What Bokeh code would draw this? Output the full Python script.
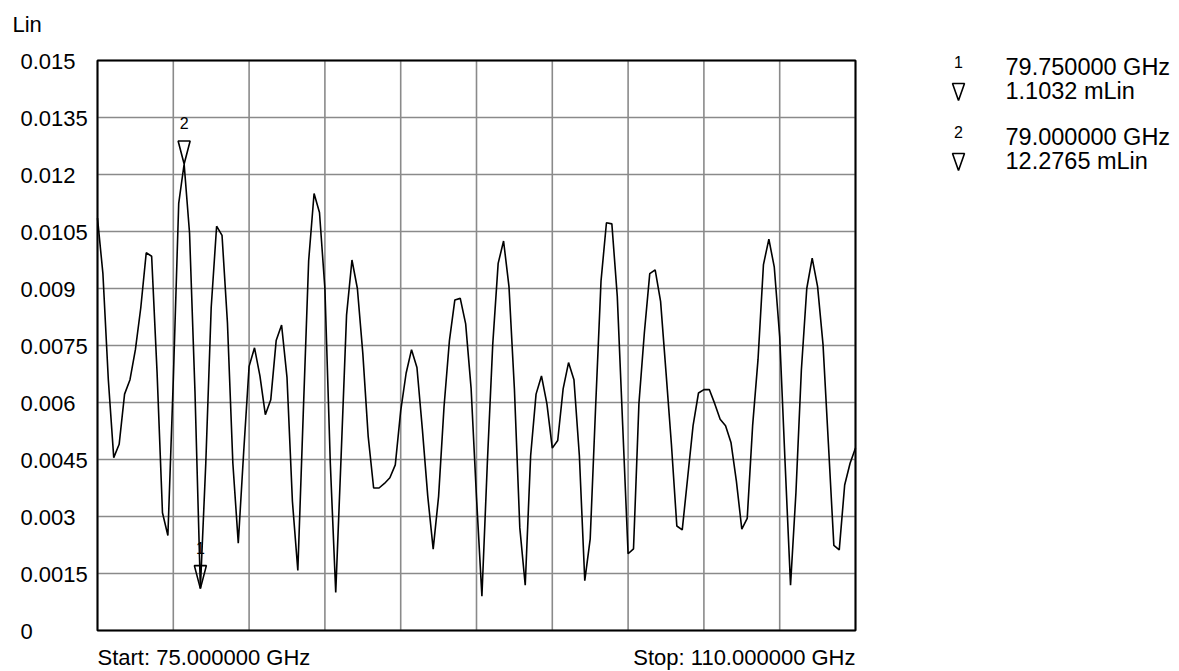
import numpy as np
from bokeh.plotting import figure
from bokeh.models import Range1d, ColumnDataSource
from bokeh.core.properties import value
from bokeh.embed import file_html
from bokeh.resources import INLINE

# ---------------- data ----------------
start_ghz = 75.0
stop_ghz = 110.0
n_points = 141
freq_ghz = np.linspace(start_ghz, stop_ghz, n_points)

trace_lin = [
    0.01085, 0.00939, 0.0066, 0.00455, 0.0049, 0.00622, 0.0066, 0.00739, 0.0085, 0.00994,
    0.00985, 0.0068, 0.0031, 0.0025, 0.0066, 0.01124, 0.0122765, 0.01046, 0.0063, 0.0011032,
    0.0044, 0.0085, 0.01064, 0.0104, 0.0081, 0.0044, 0.0023, 0.0047, 0.00695, 0.00744,
    0.0067, 0.00568, 0.00607, 0.00763, 0.00804, 0.00666, 0.0034, 0.00158, 0.0057, 0.00973,
    0.0115, 0.011, 0.009, 0.0044, 0.0010, 0.0046, 0.0083, 0.00975, 0.0090, 0.0073,
    0.0051, 0.00375, 0.00375, 0.00387, 0.00402, 0.00436, 0.00578, 0.00677, 0.00739, 0.00692,
    0.0053, 0.00353, 0.00214, 0.00353, 0.00588, 0.00763, 0.0087, 0.00874, 0.00807, 0.00638,
    0.0035, 0.0009, 0.0044, 0.00753, 0.00966, 0.01025, 0.00905, 0.00636, 0.0027, 0.00119,
    0.0046, 0.00622, 0.0067, 0.00597, 0.0048, 0.0050, 0.00636, 0.00705, 0.0066, 0.0046,
    0.00131, 0.00241, 0.00588, 0.0092, 0.01073, 0.0107, 0.0088, 0.0054, 0.00202, 0.00215,
    0.00597, 0.00783, 0.00939, 0.00949, 0.00866, 0.0068, 0.0049, 0.00275, 0.00265, 0.00402,
    0.00539, 0.00625, 0.00634, 0.00634, 0.00597, 0.00556, 0.00539, 0.00495, 0.00393, 0.00267,
    0.00295, 0.00539, 0.00714, 0.00963, 0.0103, 0.00956, 0.00773, 0.0044, 0.00119, 0.00363,
    0.00685, 0.0090, 0.0098, 0.00905, 0.00753, 0.0049, 0.00224, 0.00212, 0.00383, 0.0044,
    0.0048,
]

marker_ids = ["1", "2"]
marker_freq_ghz = [79.75, 79.0]
marker_val_lin = [0.0011032, 0.0122765]
marker_freq_text = ["79.750000 GHz", "79.000000 GHz"]
marker_val_text = ["1.1032 mLin", "12.2765 mLin"]

x_grid_ticks = [75.0, 78.5, 82.0, 85.5, 89.0, 92.5, 96.0, 99.5, 103.0, 106.5, 110.0]
y_ticks = [0.0, 0.0015, 0.003, 0.0045, 0.006, 0.0075, 0.009, 0.0105, 0.012, 0.0135, 0.015]
y_tick_labels = ["0", "0.0015", "0.003", "0.0045", "0.006", "0.0075", "0.009",
                 "0.0105", "0.012", "0.0135", "0.015"]
y_min, y_max = 0.0, 0.015
y_unit = "Lin"
start_text = "Start: 75.000000 GHz"
stop_text = "Stop: 110.000000 GHz"

# ---------------- layout (canvas pixels) ----------------
W, H = 1179, 671
FL, FR, FT, FB = 97, 855, 60, 630   # plot-area edges in canvas pixels
FONT = value("Liberation Sans")
BIG = "22px"
LEG = "23.5px"
SMALL = "16px"

px_per_x = (FR - FL) / (stop_ghz - start_ghz)
px_per_y = (FB - FT) / (y_max - y_min)


def X(px):  # canvas x pixel -> data x
    return start_ghz + (px - FL) / px_per_x


def Y(py):  # canvas y pixel (from top) -> data y
    return y_min + (FB - py) / px_per_y


p = figure(width=W, height=H, output_backend="svg", toolbar_location=None,
           x_range=Range1d(X(0), X(W)), y_range=Range1d(Y(H), Y(0)),
           x_axis_location=None, y_axis_location=None,
           min_border=0, min_border_left=0, min_border_right=0,
           min_border_top=0, min_border_bottom=0)
p.grid.visible = False
p.outline_line_color = None
p.background_fill_color = "white"
p.border_fill_color = "white"

# grid
p.segment(x0=x_grid_ticks, x1=x_grid_ticks, y0=[y_min] * len(x_grid_ticks),
          y1=[y_max] * len(x_grid_ticks), line_color="#8a8a8a", line_width=1.6)
p.segment(x0=[start_ghz] * len(y_ticks), x1=[stop_ghz] * len(y_ticks), y0=y_ticks,
          y1=y_ticks, line_color="#8a8a8a", line_width=1.6)
# plot-area frame
p.quad(left=[start_ghz], right=[stop_ghz], bottom=[y_min], top=[y_max],
       fill_color=None, line_color="black", line_width=2)

# trace
src = ColumnDataSource(dict(f=freq_ghz, v=trace_lin))
p.line("f", "v", source=src, line_color="black", line_width=1.6)

# markers on the trace: open inverted triangles with the tip on the point
tri_w, tri_h = 12, 23
m_xs = [[f - tri_w / 2 / px_per_x, f + tri_w / 2 / px_per_x, f] for f in marker_freq_ghz]
m_ys = [[v + tri_h / px_per_y, v + tri_h / px_per_y, v] for v in marker_val_lin]
p.patches(m_xs, m_ys, fill_color=None, line_color="black", line_width=1.6)
p.text(x=marker_freq_ghz, y=marker_val_lin, text=marker_ids, text_align="center",
       text_baseline="middle", text_font=FONT, text_font_size=SMALL, text_color="black",
       y_offset=-41)

# y tick labels, left aligned
p.text(x=[X(20)] * len(y_ticks), y=y_ticks, text=y_tick_labels, text_align="left",
       text_baseline="middle", text_font=FONT, text_font_size=BIG, text_color="black",
       y_offset=1)
# unit label
p.text(x=[X(12)], y=[Y(23.5)], text=[y_unit], text_align="left", text_baseline="middle",
       text_font=FONT, text_font_size=BIG, text_color="black")
# start / stop
p.text(x=[start_ghz], y=[Y(657)], text=[start_text], text_align="left",
       text_baseline="middle", text_font=FONT, text_font_size=BIG, text_color="black")
p.text(x=[stop_ghz], y=[Y(657)], text=[stop_text], text_align="right",
       text_baseline="middle", text_font=FONT, text_font_size=BIG, text_color="black")

# marker readout on the right
row_top = [0, 70]
id_x, txt_x = 958, 1005
for k, (mid, ft, vt) in enumerate(zip(marker_ids, marker_freq_text, marker_val_text)):
    r = row_top[k]
    p.text(x=[X(id_x)], y=[Y(61 + r)], text=[mid], text_align="center",
           text_baseline="middle", text_font=FONT, text_font_size=SMALL, text_color="black")
    p.text(x=[X(txt_x)], y=[Y(66 + r)], text=[ft], text_align="left",
           text_baseline="middle", text_font=FONT, text_font_size=LEG, text_color="black")
    p.text(x=[X(txt_x)], y=[Y(90 + r)], text=[vt], text_align="left",
           text_baseline="middle", text_font=FONT, text_font_size=LEG, text_color="black")
    lx = [X(id_x - 6), X(id_x + 6), X(id_x)]
    ly = [Y(83 + r), Y(83 + r), Y(100 + r)]
    p.patch(lx, ly, fill_color=None, line_color="black", line_width=1.6)

open("out.html", "w").write(file_html(p, INLINE))
